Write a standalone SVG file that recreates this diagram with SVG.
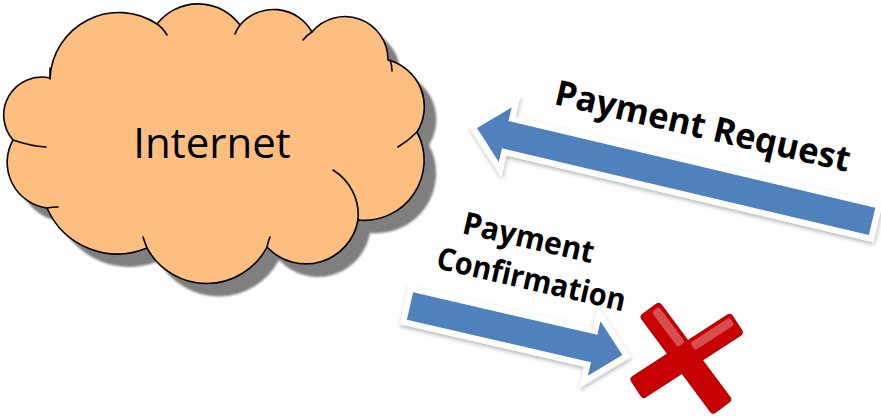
<svg xmlns="http://www.w3.org/2000/svg" width="881" height="420" viewBox="0 0 881 420">
<defs>
<style>
.lbl{font-family:"Open Sans","Liberation Sans",sans-serif;font-weight:bold;fill:#000}
.cloud{fill:#FDBE7F;stroke:#000;stroke-width:1.6;stroke-linejoin:round}
.tick{fill:none;stroke:#000;stroke-width:1.6;stroke-linecap:round}
.arrowBorder{fill:#fff;stroke:#fff;stroke-width:12;stroke-linejoin:miter;stroke-miterlimit:10}
.arrowBody{fill:#4F81BD}
.xOutline{fill:none;stroke:#B00000;stroke-width:2.2}
.xFill{fill:url(#xg)}
.xGloss{fill:#fff;opacity:0.3}
</style>
<filter id="cloudShadow" x="-10%" y="-10%" width="130%" height="130%">
<feGaussianBlur stdDeviation="1.2"/>
</filter>
<filter id="arrowShadow" x="-10%" y="-30%" width="120%" height="160%">
<feDropShadow dx="1" dy="2" stdDeviation="2" flood-color="#000" flood-opacity="0.3"/>
</filter>
<radialGradient id="xg" cx="686" cy="360" r="75" gradientUnits="userSpaceOnUse">
<stop offset="0" stop-color="#FF1A1A"/>
<stop offset="0.6" stop-color="#E81010"/>
<stop offset="1" stop-color="#C80000"/>
</radialGradient>
<path id="cloudPath" d="M50,78 A69,69 0 0 1 157,24 A52,52 0 0 1 240,25 A44,44 0 0 1 312,32 A43,43 0 0 1 388,60 A48,48 0 0 1 417,132 A60,60 0 0 1 358,220 A53,53 0 0 1 267,247 A68,68 0 0 1 147,248 A77,77 0 0 1 47,208 A46,46 0 0 1 13,140 A38,38 0 0 1 50,78 Z"/>
</defs>
<rect width="881" height="420" fill="#fff"/>

<g id="internet">
<use href="#cloudPath" transform="translate(12,13)" fill="#7F7F7F" filter="url(#cloudShadow)"/>
<use href="#cloudPath" class="cloud"/>
<path class="tick" d="M50,68 Q50,73 50,79 M157,24 Q163,28 167,35 M240,25 Q237,29 235,34 M312,32 Q307,35 303,40 M390,60 Q392,65 392,71 M417,132 Q408,141 398,147 M333,170 A53,53 0 0 1 358,220 M267,247 Q268,242 270,237 M147,248 Q145,243 143,237 M47,208 Q52,207 58,207 M13,140 Q30,146 46,147"/>
<text x="212" y="158" text-anchor="middle" font-family="'Open Sans','Liberation Sans',sans-serif" font-size="42" fill="#000">Internet</text>
</g>

<g id="connectors">
<g id="payment-request-arrow" transform="translate(477,128) rotate(13.3)">
<g filter="url(#arrowShadow)">
<polygon class="arrowBorder" points="0,0 29,-28 29,-14 406,-14 406,14 29,14 29,28"/>
</g>
<polygon class="arrowBody" points="0,0 29,-28 29,-14 406,-14 406,14 29,14 29,28"/>
</g>
<g id="payment-confirmation-arrow" transform="translate(410,306) rotate(13)">
<g filter="url(#arrowShadow)">
<polygon class="arrowBorder" points="0,-14 189,-14 189,-28 218,0 189,28 189,14 0,14"/>
</g>
<polygon class="arrowBody" points="0,-14 189,-14 189,-28 218,0 189,28 189,14 0,14"/>
</g>
</g>

<g id="label-request">
<text class="lbl" transform="translate(553,104) rotate(13)" font-size="35" textLength="302" lengthAdjust="spacingAndGlyphs">Payment Request</text>
</g>
<g id="label-confirmation">
<text class="lbl" transform="translate(461,233) rotate(13)" font-size="31" textLength="134" lengthAdjust="spacingAndGlyphs">Payment</text>
<text class="lbl" transform="translate(435,268) rotate(13)" font-size="31" textLength="193" lengthAdjust="spacingAndGlyphs">Confirmation</text>
</g>

<g id="fail-mark" transform="translate(685,357)">
<rect class="xOutline" x="-59" y="-11.5" width="121" height="23" rx="3" transform="rotate(53.4)"/>
<rect class="xOutline" x="-57.5" y="-11.5" width="119" height="23" rx="3" transform="rotate(-33)"/>
<rect class="xFill" x="-59" y="-11.5" width="121" height="23" rx="3" transform="rotate(53.4)"/>
<rect class="xFill" x="-57.5" y="-11.5" width="119" height="23" rx="3" transform="rotate(-33)"/>
<rect class="xGloss" x="-56" y="-9" width="44" height="9" rx="3" transform="rotate(53.4)"/>
<rect class="xGloss" x="12" y="-9" width="47" height="9" rx="3" transform="rotate(-33)"/>
</g>
</svg>
